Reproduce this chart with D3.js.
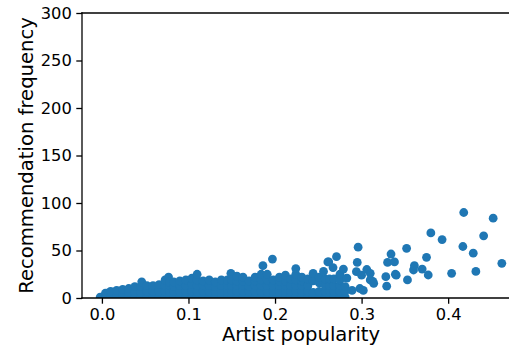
<!DOCTYPE html>
<html>
<head>
<meta charset="utf-8">
<script src="https://cdn.jsdelivr.net/npm/d3@7"></script>
<style>
  html, body { margin: 0; padding: 0; background: #fff; }
  svg { display: block; }
  text { font-family: "DejaVu Sans", sans-serif; }
</style>
</head>
<body>
<svg id="chart" width="509" height="349"></svg>
<script>
// ---- data ----
const xTicks = [0.0, 0.1, 0.2, 0.3, 0.4];
const yTicks = [0, 50, 100, 150, 200, 250, 300];
const xLabel = "Artist popularity";
const yLabel = "Recommendation frequency";

// dense mass of points near the bottom (artist popularity, frequency)
const densePoints = [
  [-0.002,1],
  [0.004,1],[0.004,5],
  [0.010,1],[0.010,7],
  [0.017,1],[0.017,8],
  [0.024,1],[0.024,6],[0.024,9],
  [0.031,1],[0.031,6],[0.031,10],
  [0.038,1],[0.038,6],[0.038,12],
  [0.045,1],[0.045,6],[0.045,12],[0.046,17],
  [0.052,1],[0.052,7],[0.052,13],
  [0.059,1],[0.059,7],[0.059,13],
  [0.066,1],[0.066,7],[0.066,14],
  [0.073,1],[0.073,7],[0.073,13],[0.073,19],[0.077,22],
  [0.078,1],[0.078,7],[0.078,13],[0.078,17],
  [0.083,1],[0.083,7],[0.083,12],[0.083,17],
  [0.090,1],[0.090,7],[0.090,13],[0.090,18],
  [0.097,1],[0.097,7],[0.097,13],[0.097,19],
  [0.104,1],[0.104,7],[0.104,14],[0.104,21],
  [0.110,1],[0.110,7],[0.110,13],[0.110,19],[0.110,25],
  [0.117,1],[0.117,7],[0.117,13],[0.117,18],
  [0.124,1],[0.124,7],[0.124,13],[0.124,19],
  [0.131,1],[0.131,7],[0.131,12],[0.131,17],
  [0.138,1],[0.138,7],[0.138,13],[0.138,19],
  [0.145,1],[0.145,7],[0.145,13],[0.145,19],[0.149,26],
  [0.150,1],[0.150,7],[0.150,13],[0.150,19],
  [0.156,1],[0.156,7],[0.156,13],[0.156,18],[0.156,23],
  [0.163,1],[0.163,7],[0.163,13],[0.163,18],[0.163,22],
  [0.170,1],[0.170,7],[0.170,12],[0.170,18],
  [0.177,1],[0.177,7],[0.177,13],[0.177,18],[0.177,22],
  [0.184,1],[0.184,7],[0.184,13],[0.184,19],[0.184,25],[0.186,34],
  [0.191,1],[0.191,7],[0.191,13],[0.191,19],[0.191,25],
  [0.198,1],[0.198,7],[0.198,13],[0.198,19],[0.197,41],
  [0.205,1],[0.205,7],[0.205,13],[0.205,18],[0.205,22],
  [0.212,1],[0.212,7],[0.212,13],[0.212,18],[0.212,24],
  [0.218,1],[0.218,7],[0.218,13],[0.218,20],
  [0.224,1],[0.224,7],[0.224,13],[0.224,19],[0.224,25],[0.224,31],
  [0.231,1],[0.231,7],[0.231,13],[0.231,18],[0.231,22],
  [0.238,1],[0.238,7],[0.238,13],[0.238,20],
  [0.244,1],[0.244,6],[0.244,18],[0.244,26],
  [0.251,1],[0.251,7],[0.251,16],[0.251,22],
  [0.258,1],[0.258,7],[0.258,13],[0.258,20],[0.256,28],
  [0.262,38],
  [0.263,1],[0.263,7],[0.263,13],[0.263,20],
  [0.268,1],[0.268,7],[0.268,13],[0.268,20],[0.267,32],
  [0.275,1],[0.275,7],[0.275,13],[0.275,19],[0.275,25],
  [0.281,1],[0.281,7],[0.281,12]
];

// sparser points toward the right
const sparsePoints = [
  [0.271,43.5],[0.261,38],[0.279,30.5],[0.283,21],[0.289,8],
  [0.296,53.5],[0.295,37.5],[0.294,27.7],[0.300,24],[0.298,10],[0.302,8],
  [0.306,30],[0.310,26],[0.310,19],[0.313,17.5],[0.314,15.5],
  [0.328,22.4],[0.329,12.5],[0.330,37.5],[0.334,46.3],[0.338,38],
  [0.339,25],[0.340,24],
  [0.352,52.3],[0.353,19],[0.360,29.5],[0.361,34],[0.370,30.5],
  [0.375,42.8],[0.377,24.2],[0.380,68.5],[0.393,61.5],
  [0.404,26],[0.417,54.2],[0.418,90],[0.429,47.2],[0.432,28],
  [0.441,65.4],[0.452,84],[0.462,36.5]
];

const allPoints = densePoints.concat(sparsePoints);

// ---- layout ----
const mLeft = 82, mTop = 13, mBottom = 298, mRight = 520;
const svg = d3.select("#chart");

const x = d3.scaleLinear().domain([-0.023, 0.483]).range([mLeft, mRight]);
const y = d3.scaleLinear().domain([0, 300]).range([mBottom, mTop]);

svg.append("defs").append("clipPath").attr("id", "clip")
  .append("rect").attr("x", mLeft).attr("y", mTop)
  .attr("width", mRight - mLeft).attr("height", mBottom - mTop);

// points
svg.append("g").attr("clip-path", "url(#clip)")
  .selectAll("circle").data(allPoints).join("circle")
  .attr("cx", d => x(d[0]))
  .attr("cy", d => y(d[1]))
  .attr("r", 4.4)
  .attr("fill", "#1f77b4");

// axes
const xAxis = d3.axisBottom(x).tickValues(xTicks).tickFormat(d3.format(".1f"))
  .tickSizeOuter(0).tickSize(5.7).tickPadding(4.5);
const yAxis = d3.axisLeft(y).tickValues(yTicks).tickFormat(d3.format("d"))
  .tickSizeOuter(0).tickSize(5.7).tickPadding(4.5);

const gx = svg.append("g").attr("transform", `translate(0,${mBottom})`).call(xAxis);
const gy = svg.append("g").attr("transform", `translate(${mLeft},0)`).call(yAxis);

[gx, gy].forEach(g => {
  g.select(".domain").remove();
  g.selectAll(".tick line").attr("stroke", "#000").attr("stroke-width", 1.3);
  g.selectAll(".tick text").attr("fill", "#000").style("font-size", "16.3px")
    .style("font-family", "'DejaVu Sans', sans-serif");
});

// spines (left, top, bottom)
const sp = svg.append("g").attr("stroke", "#000").attr("stroke-width", 1.3)
  .attr("stroke-linecap", "square").attr("fill", "none");
sp.append("line").attr("x1", mLeft).attr("x2", mLeft).attr("y1", mTop).attr("y2", mBottom);
sp.append("line").attr("x1", mLeft).attr("x2", mRight).attr("y1", mTop).attr("y2", mTop);
sp.append("line").attr("x1", mLeft).attr("x2", mRight).attr("y1", mBottom).attr("y2", mBottom);

// axis labels
svg.append("text")
  .attr("x", (mLeft + mRight) / 2).attr("y", 341)
  .attr("text-anchor", "middle")
  .style("font-size", "19.6px").attr("fill", "#000")
  .text(xLabel);

svg.append("text")
  .attr("transform", `translate(33,${(mTop + mBottom) / 2}) rotate(-90)`)
  .attr("text-anchor", "middle")
  .style("font-size", "19.6px").attr("fill", "#000")
  .text(yLabel);
</script>
</body>
</html>
